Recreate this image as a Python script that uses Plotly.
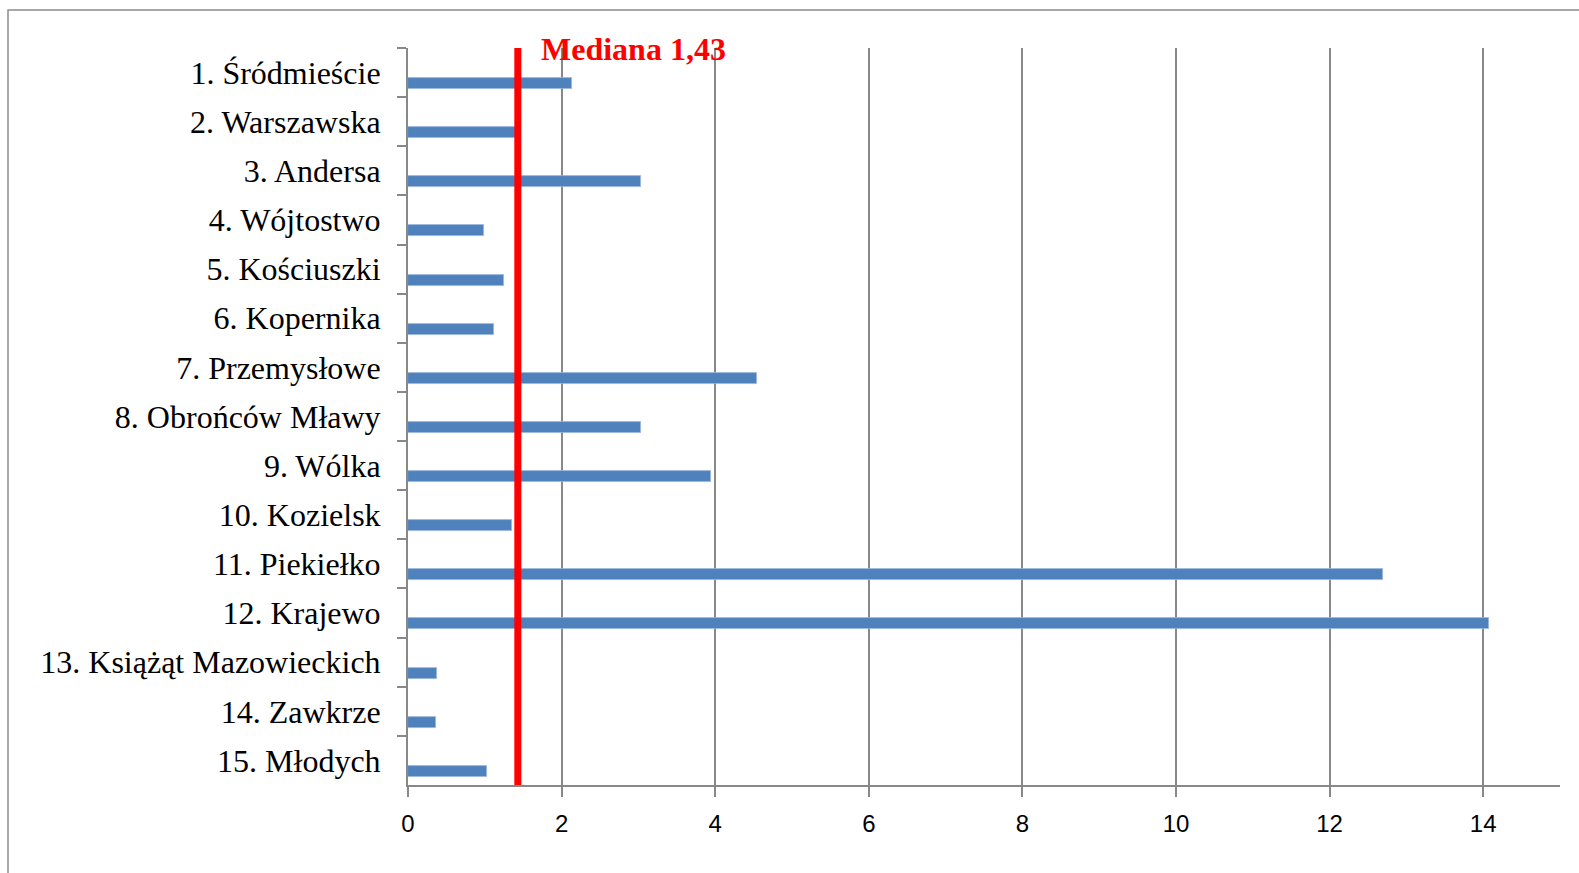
import plotly.graph_objects as go

categories = [
    "1. Śródmieście", "2. Warszawska", "3. Andersa", "4. Wójtostwo",
    "5. Kościuszki", "6. Kopernika", "7. Przemysłowe", "8. Obrońców Mławy",
    "9. Wólka", "10. Kozielsk", "11. Piekiełko", "12. Krajewo",
    "13. Książąt Mazowieckich", "14. Zawkrze", "15. Młodych",
]
values = [2.14, 1.43, 3.04, 0.99, 1.25, 1.12, 4.55, 3.03, 3.95, 1.35,
          12.70, 14.08, 0.38, 0.36, 1.03]
median_value = 1.43
median_label = "Mediana 1,43"
x_ticks = [0, 2, 4, 6, 8, 10, 12, 14]

W, H = 1579, 873
L, R, T, B = 408, 19, 48, 88
pw, ph = W - L - R, H - T - B

gray = "#888888"

fig = go.Figure()
fig.add_trace(go.Bar(
    y=categories, x=values, orientation="h",
    marker=dict(color="#4F81BD", line=dict(color="#9db8dd", width=0.8)),
    width=0.224, offset=0.11,
    hoverinfo="x+y", showlegend=False,
))

fig.add_shape(type="line", xref="x", yref="paper",
              x0=median_value, x1=median_value, y0=0, y1=1,
              line=dict(color="#FF0000", width=7))

fig.add_annotation(text="<b>" + median_label + "</b>", xref="x", yref="paper",
                   x=1.70, y=1.0, xanchor="left", yanchor="middle",
                   showarrow=False, yshift=-1,
                   font=dict(family="Liberation Serif", size=32, color="#FF0000"))

# outer frame
fig.add_shape(type="rect", xref="paper", yref="paper",
              x0=(8 - L) / pw, x1=1.2, y0=-0.3, y1=1 + (T - 10) / ph,
              line=dict(color="#8c8c8c", width=1.5), layer="below")

fig.update_layout(
    width=W, height=H,
    margin=dict(l=L, r=R, t=T, b=B),
    paper_bgcolor="white", plot_bgcolor="white",
    bargap=0,
    xaxis=dict(range=[0, 15], tickvals=x_ticks, ticktext=[str(v) for v in x_ticks],
               showgrid=True, gridcolor=gray, gridwidth=1.5,
               zeroline=False, showline=True, linecolor=gray, linewidth=2,
               ticks="outside", ticklen=10, tickwidth=2, tickcolor=gray,
               ticklabelstandoff=6,
               tickfont=dict(family="Liberation Sans", size=24, color="black")),
    yaxis=dict(categoryorder="array", categoryarray=categories, type="category",
               range=[14.5, -0.5], showgrid=False, zeroline=False,
               showline=True, linecolor=gray, linewidth=2,
               ticks="outside", ticklen=9, tickwidth=2, tickcolor=gray,
               tickson="boundaries", ticklabelstandoff=19,
               tickfont=dict(family="Liberation Serif", size=32, color="black")),
)

fig.write_html("out.html", config={"displayModeBar": False},
               post_script="document.body.style.margin='0';document.body.style.overflow='hidden';")
